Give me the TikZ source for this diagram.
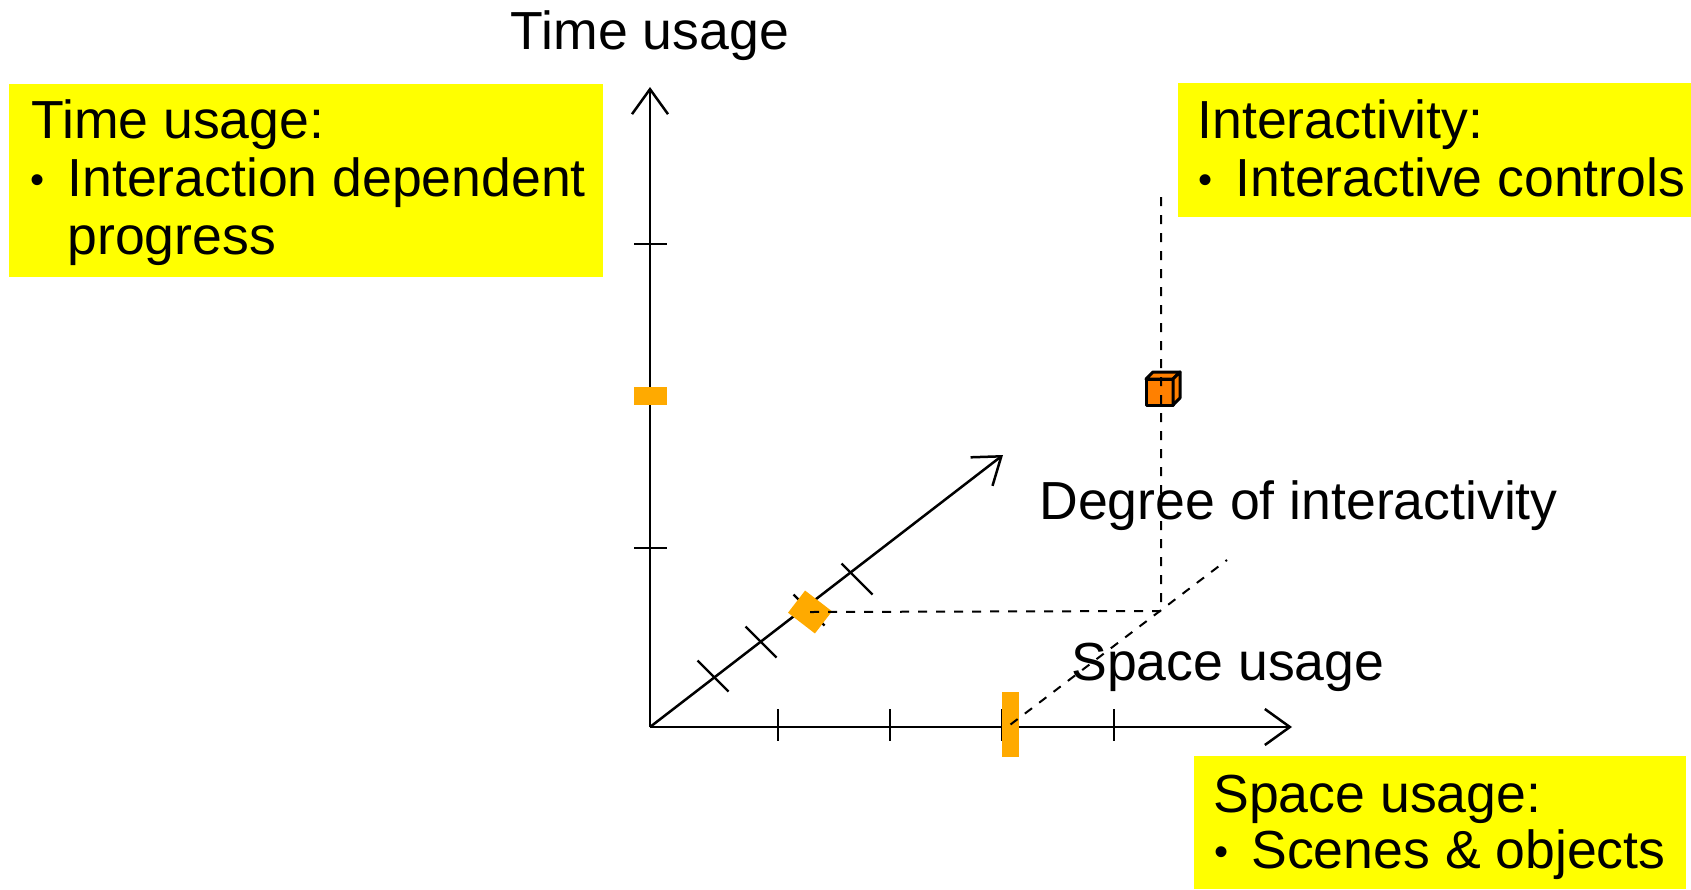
\documentclass[tikz,border=0pt]{standalone}
\usepackage{fontspec}
\setmainfont{Liberation Sans}
\usetikzlibrary{arrows.meta}
\definecolor{noteyellow}{RGB}{255,255,0}
\definecolor{markorange}{RGB}{255,170,0}
\definecolor{cubeorange}{RGB}{255,128,0}

\tikzset{
  axis/.style={line width=1.25pt, -{Straight Barb[length=12.5pt,width=18pt,line width=1.25pt]}},
  tickmark/.style={line width=1.1pt},
  guide/.style={line width=1pt, dash pattern=on 4.5pt off 4.5pt},
  marker/.style={fill=markorange, inner sep=0pt},
  lbl/.style={inner sep=0pt, anchor=base west},
}
\newcommand{\bul}{\makebox[18.5pt][l]{\raisebox{1.5pt}{\scalebox{0.75}{\textbullet}}}}

\begin{document}
\begin{tikzpicture}[x=0.5pt,y=-0.5pt,font=\fontsize{26.8}{28.5}\selectfont]
  \useasboundingbox (0,0) rectangle (1691,889);

  % yellow notes
  \fill[noteyellow] (9,84) rectangle (603,277);
  \fill[noteyellow] (1178,83) rectangle (1691,217);
  \fill[noteyellow] (1194,756) rectangle (1686,889);

  % axes
  \coordinate (O) at (650,727);
  \coordinate (ytop) at (650,87);
  \coordinate (xend) at (1292,727);
  \coordinate (zend) at (1003,455);
  \draw[axis] (O) -- (ytop);
  \draw[axis] (O) -- (xend);
  \draw[axis] (O) -- (zend);

  % ticks
  \foreach \y in {244,548}
    \draw[tickmark] (634,\y) -- ++(33,0);
  \foreach \x in {778,890,1002,1114}
    \draw[tickmark] (\x,709) -- ++(0,32);
  \foreach \c in {(713,676),(761,642),(809,610),(857,579)}
    \draw[tickmark] \c ++(-15.5,-15.5) -- ++(31,31);

  % markers on the axes
  \node[marker, minimum width=16.5pt, minimum height=9pt] (ymark) at (650,396) {};
  \node[marker, minimum width=8.5pt, minimum height=32.5pt] (xmark) at (1010.5,724.5) {};
  \node[marker, minimum width=17pt, minimum height=14pt, rotate=-37.6] (dmark) at (810,612) {};

  % the point (cube)
  \begin{scope}[draw=black, fill=cubeorange, line width=1.5pt, line join=round]
    \filldraw (1146,379) rectangle (1173,405);
    \filldraw (1146,379) -- (1153,372) -- (1180,372) -- (1173,379) -- cycle;
    \filldraw (1173,379) -- (1180,372) -- (1180,398) -- (1173,405) -- cycle;
  \end{scope}

  % projection lines
  \coordinate (corner) at (1161,611);
  \coordinate (vtop) at (1161,196);
  \coordinate (zfar) at (1227,560);
  \draw[guide] (dmark.center) -- (corner) -- (vtop);
  \draw[guide] (xmark.center) -- (zfar);

  % axis labels
  \node[inner sep=0pt, anchor=base] (ylabel) at (650,49) {Time usage};
  \node[lbl] (zlabel) at (1039,519) {Degree of interactivity};
  \node[lbl] (xlabel) at (1071,680) {Space usage};

  % note texts
  \node[lbl] (tnote) at (31,138) {Time usage:};
  \node[lbl] (tnote1) at (30,196) {\bul Interaction dependent};
  \node[lbl] (tnote2) at (67,254) {progress};
  \node[lbl] (inote) at (1197,138) {Interactivity:};
  \node[lbl] (inote1) at (1198,196) {\bul Interactive controls};
  \node[lbl] (snote) at (1213,812) {Space usage:};
  \node[lbl] (snote1) at (1214,868) {\bul Scenes \& objects};
\end{tikzpicture}
\end{document}
